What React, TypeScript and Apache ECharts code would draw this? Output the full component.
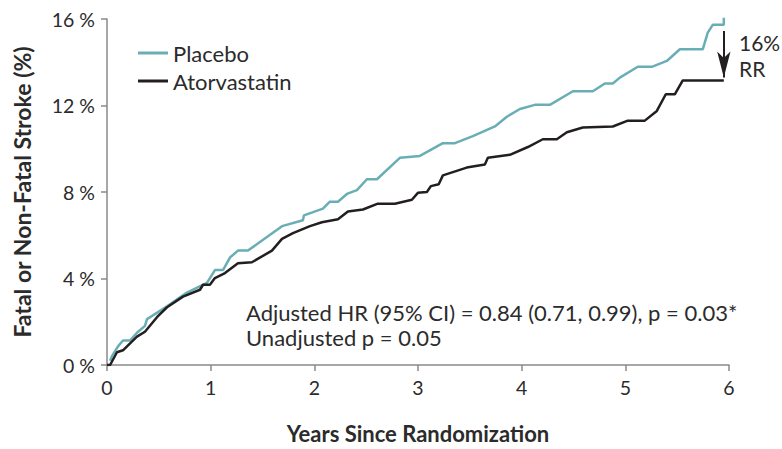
import React, { useEffect, useRef } from "react";
import * as echarts from "echarts";

const xTicks = [0, 1, 2, 3, 4, 5, 6];
const yTicks = [0, 4, 8, 12, 16];

const placeboX = [0.03, 0.048, 0.106, 0.154, 0.222, 0.289, 0.366, 0.386, 0.579, 0.771, 0.964, 1.041, 1.119, 1.186, 1.263, 1.36, 1.688, 1.89, 1.9, 2.083, 2.15, 2.228, 2.314, 2.411, 2.507, 2.604, 2.825, 3.018, 3.24, 3.356, 3.529, 3.742, 3.857, 3.983, 4.127, 4.272, 4.494, 4.687, 4.802, 4.879, 4.947, 5.12, 5.255, 5.4, 5.526, 5.747, 5.795, 5.843, 5.95, 5.95];
const placeboY = [0.2, 0.41, 0.86, 1.13, 1.13, 1.49, 1.81, 2.12, 2.71, 3.35, 3.8, 4.39, 4.39, 4.97, 5.29, 5.29, 6.42, 6.69, 6.92, 7.23, 7.55, 7.55, 7.91, 8.09, 8.59, 8.59, 9.58, 9.67, 10.26, 10.26, 10.58, 11.03, 11.48, 11.84, 12.03, 12.03, 12.66, 12.66, 13.02, 13.02, 13.29, 13.79, 13.79, 14.06, 14.6, 14.6, 15.37, 15.73, 15.73, 16.23];

const atorvaX = [0, 0.03, 0.096, 0.154, 0.289, 0.366, 0.482, 0.579, 0.733, 0.897, 0.926, 0.993, 1.041, 1.138, 1.263, 1.398, 1.591, 1.688, 1.794, 1.958, 2.073, 2.228, 2.324, 2.469, 2.613, 2.777, 2.941, 2.999, 3.086, 3.124, 3.2, 3.24, 3.47, 3.645, 3.674, 3.886, 4.06, 4.204, 4.339, 4.436, 4.59, 4.879, 5.024, 5.188, 5.304, 5.39, 5.477, 5.554, 5.95];
const atorvaY = [0, 0, 0.59, 0.68, 1.31, 1.54, 2.21, 2.67, 3.16, 3.48, 3.71, 3.71, 4.02, 4.25, 4.7, 4.75, 5.29, 5.83, 6.1, 6.42, 6.6, 6.74, 7.1, 7.19, 7.46, 7.46, 7.64, 7.96, 8.0, 8.27, 8.36, 8.77, 9.13, 9.27, 9.58, 9.72, 10.08, 10.44, 10.44, 10.76, 10.98, 11.03, 11.3, 11.3, 11.75, 12.52, 12.52, 13.16, 13.16];

const seriesNames = ["Placebo", "Atorvastatin"];
const annotationLines = [
  "Adjusted HR (95% CI) = 0.84 (0.71, 0.99), p = 0.03*",
  "Unadjusted p = 0.05",
];
const rrLines = ["16%", "RR"];
const arrowX = 5.95;
const arrowFrom = 15.45;
const arrowTo = 13.3;

const TEAL = "#6aaeb5";
const BLACK = "#231f20";
const TEXT = "#2b2b2b";
const AXIS = "#8a8a8a";
const FONT = "Lato, 'Open Sans', sans-serif";

export default function App() {
  const ref = useRef<HTMLDivElement>(null);
  useEffect(() => {
    if (!ref.current) return;
    const chart = echarts.init(ref.current, undefined, { renderer: "svg" });
    const pData = placeboX.map((x, i) => [x, placeboY[i]]);
    const aData = atorvaX.map((x, i) => [x, atorvaY[i]]);
    chart.setOption({
      animation: false,
      textStyle: { fontFamily: FONT },
      grid: { left: 107, right: 53, top: 19, bottom: 77 },
      legend: {
        left: 138,
        top: 42,
        padding: 0,
        orient: "vertical",
        itemWidth: 30,
        itemHeight: 3,
        itemGap: 6,
        icon: "rect",
        textStyle: { fontSize: 22, color: TEXT, fontFamily: FONT },
        data: seriesNames,
      },
      xAxis: {
        type: "value",
        min: xTicks[0],
        max: xTicks[xTicks.length - 1],
        interval: 1,
        name: "Years Since Randomization",
        nameLocation: "middle",
        nameGap: 57,
        nameTextStyle: { fontSize: 22, fontWeight: "bold", color: TEXT, fontFamily: FONT },
        axisLine: { lineStyle: { color: AXIS, width: 1.5 } },
        axisTick: { show: true, length: 6, lineStyle: { color: AXIS, width: 1.5 } },
        axisLabel: { fontSize: 19.5, color: TEXT, margin: 12 },
        splitLine: { show: false },
      },
      yAxis: {
        type: "value",
        min: yTicks[0],
        max: yTicks[yTicks.length - 1],
        interval: 4,
        name: "Fatal or Non-Fatal Stroke (%)",
        nameLocation: "middle",
        nameGap: 74,
        nameTextStyle: { fontSize: 23, fontWeight: "bold", color: TEXT, fontFamily: FONT },
        axisLine: { show: true, lineStyle: { color: AXIS, width: 1.5 } },
        axisTick: { show: true, length: 6, lineStyle: { color: AXIS, width: 1.5 } },
        axisLabel: { fontSize: 19.5, color: TEXT, margin: 12, formatter: (v: number) => `${v} %` },
        splitLine: { show: false },
      },
      series: [
        {
          name: seriesNames[0],
          type: "line",
          data: pData,
          showSymbol: false,
          symbol: "none",
          lineStyle: { color: TEAL, width: 2.5 },
          itemStyle: { color: TEAL },
          z: 2,
        },
        {
          name: seriesNames[1],
          type: "line",
          data: aData,
          showSymbol: false,
          symbol: "none",
          lineStyle: { color: BLACK, width: 2.5 },
          itemStyle: { color: BLACK },
          z: 3,
          markLine: {
            silent: true,
            symbol: ["none", "arrow"],
            symbolSize: [10, 26],
            label: { show: false },
            lineStyle: { color: BLACK, width: 2, type: "solid" },
            data: [[{ coord: [arrowX, arrowFrom] }, { coord: [arrowX, arrowTo] }]],
          },
        },
      ],
      graphic: [
        {
          type: "text",
          left: 246,
          top: 300,
          style: {
            text: annotationLines.join("\n"),
            fontSize: 22,
            lineHeight: 25,
            fill: TEXT,
            fontFamily: FONT,
          },
        },
        {
          type: "text",
          left: 739,
          top: 29,
          style: {
            text: rrLines.join("\n"),
            fontSize: 21,
            lineHeight: 26,
            fill: TEXT,
            fontFamily: FONT,
          },
        },
      ],
    });
    return () => chart.dispose();
  }, []);
  return <div ref={ref} style={{ width: 782, height: 449, position: "absolute", left: 0, top: 0 }} />;
}
